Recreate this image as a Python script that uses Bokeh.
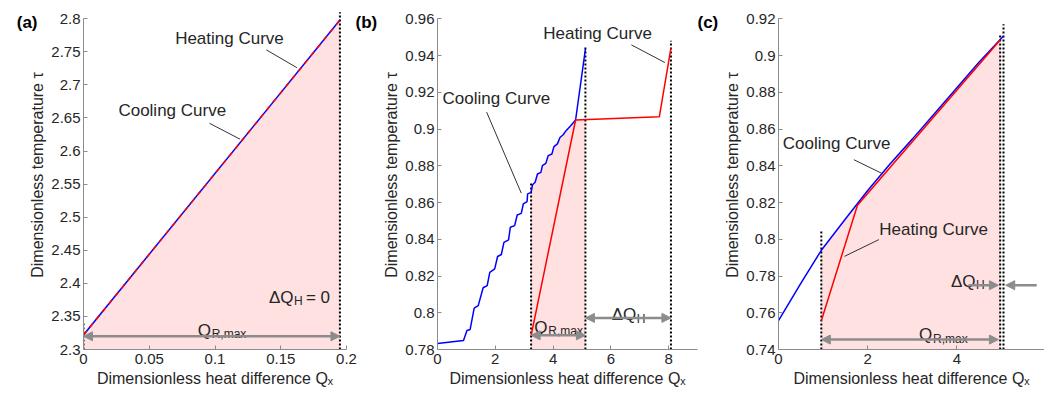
import numpy as np
from bokeh.plotting import figure
from bokeh.layouts import row
from bokeh.models import Arrow, NormalHead, FixedTicker, CustomJSTickFormatter, LinearAxis
from bokeh.core.properties import value
from bokeh.embed import file_html
from bokeh.resources import INLINE

# ---------------- data ----------------
# panel (a)
a_cool_x = [0.0, 0.195]
a_cool_y = [2.322, 2.798]
a_heat_x = [0.0, 0.195]
a_heat_y = [2.322, 2.798]
a_qr = [0.0, 0.195]
a_xticks = [0, 0.05, 0.1, 0.15, 0.2]
a_yticks = [2.3, 2.35, 2.4, 2.45, 2.5, 2.55, 2.6, 2.65, 2.7, 2.75, 2.8]

# panel (b)
b_cool_x = [0, 0.90, 1.02, 1.13, 1.27, 1.41, 1.58, 1.72, 1.81, 1.98, 2.08, 2.21, 2.30, 2.46,
            2.52, 2.67, 2.76, 2.90, 2.97, 3.10, 3.12, 3.24, 3.29, 3.38, 3.46, 3.58, 3.63, 3.75,
            3.83, 3.96, 4.03, 4.15, 4.24, 4.35, 4.45, 4.61, 4.78, 5.12]
b_cool_y = [0.7833, 0.7849, 0.7903, 0.7909, 0.8025, 0.8039, 0.8136, 0.8148, 0.8220, 0.8239,
            0.8306, 0.8317, 0.8383, 0.8397, 0.8465, 0.8474, 0.8532, 0.8541, 0.8592, 0.8605,
            0.8647, 0.8655, 0.8697, 0.8710, 0.8755, 0.8764, 0.8801, 0.8813, 0.8855, 0.8864,
            0.8904, 0.8919, 0.8954, 0.8969, 0.8991, 0.9018, 0.9049, 0.9435]
b_heat_x = [3.24, 4.78, 7.68, 8.08]
b_heat_y = [0.7876, 0.9049, 0.9067, 0.9440]
b_qr = [3.24, 5.12]
b_dqh = [5.12, 8.08]
b_xticks = [0, 2, 4, 6, 8]
b_yticks = [0.78, 0.8, 0.82, 0.84, 0.86, 0.88, 0.9, 0.92, 0.94, 0.96]

# panel (c)
c_cool_x = [0, 0.5, 0.96, 1.5, 2.0, 2.5, 3.0, 3.5, 4.0, 4.5, 5.04]
c_cool_y = [0.7557, 0.7760, 0.7940, 0.8110, 0.8265, 0.8410, 0.8545, 0.8685, 0.8825, 0.8965, 0.9105]
c_heat_x = [0.96, 1.77, 4.97]
c_heat_y = [0.7557, 0.8185, 0.9085]
c_qr = [0.96, 4.97]
c_dqh = [4.97, 5.045]
c_xticks = [0, 2, 4, 6]
c_yticks = [0.74, 0.76, 0.78, 0.8, 0.82, 0.84, 0.86, 0.88, 0.9, 0.92]

XLABEL = "Dimensionless heat difference Q\u2093"
YLABEL = "Dimensionless temperature \u03c4"

# ---------------- style ----------------
FONT = "Liberation Sans"
TXT = "#262626"
AX = "#8c8c8c"
ARROW = "#8c8c8c"
PINK = "#ffe1e1"
BLUE = "#0000ff"
RED = "#ff0000"
H = 394
BB = 45


def make_fig(width, xr, yr, bl, br, xticks, yticks, ybounds):
    p = figure(width=width, height=H, x_range=xr, y_range=yr, output_backend="svg",
               toolbar_location=None, min_border_left=bl, min_border_right=br,
               min_border_top=0, min_border_bottom=BB)
    p.xgrid.visible = False
    p.ygrid.visible = False
    p.outline_line_color = None
    p.background_fill_color = "white"
    p.border_fill_color = "white"
    for ax in (p.xaxis[0], p.yaxis[0]):
        ax.axis_line_color = AX
        ax.axis_line_width = 1
        ax.major_tick_line_color = AX
        ax.major_tick_in = 4
        ax.major_tick_out = 0
        ax.minor_tick_line_color = None
        ax.major_label_text_font = FONT
        ax.major_label_text_font_size = "15px"
        ax.major_label_text_color = TXT
        ax.formatter = CustomJSTickFormatter(code="return String(Math.round(tick*1e6)/1e6);")
        ax.axis_label_text_font = FONT
        ax.axis_label_text_font_size = "16px"
        ax.axis_label_text_font_style = "normal"
        ax.axis_label_text_color = TXT
        ax.axis_label_text_line_height = 1.0
    p.xaxis[0].ticker = FixedTicker(ticks=xticks)
    p.yaxis[0].ticker = FixedTicker(ticks=yticks)
    p.yaxis[0].bounds = ybounds
    p.yaxis[0].major_label_standoff = 3
    p.yaxis[0].axis_label = YLABEL
    p.yaxis[0].axis_label_standoff = 2
    p.xaxis[0].major_label_standoff = 4
    p.xaxis[0].axis_label = XLABEL
    p.xaxis[0].axis_label_standoff = 3
    return p


def panel_tag(p, tag, y, side, standoff=0):
    # a panel letter drawn as the single label of an otherwise invisible axis
    ax = LinearAxis(ticker=FixedTicker(ticks=[y]),
                    formatter=CustomJSTickFormatter(code="return '%s';" % tag))
    ax.axis_line_color = None
    ax.major_tick_line_color = None
    ax.minor_tick_line_color = None
    ax.major_tick_in = 0
    ax.major_tick_out = 0
    ax.major_label_standoff = standoff
    ax.major_label_text_font = FONT
    ax.major_label_text_font_size = "17px"
    ax.major_label_text_font_style = "bold"
    ax.major_label_text_color = "black"
    p.add_layout(ax, side)


def txt(p, x, y, t, size="17px", align="center", baseline="middle", dx=0, dy=0):
    p.text(x=[x], y=[y], text=[t], x_offset=dx, y_offset=dy, text_font=value(FONT),
           text_font_size=size, text_color=TXT, text_align=align, text_baseline=baseline)


def q_rmax(p, x, y):
    txt(p, x, y, "Q", align="left", baseline="alphabetic")
    txt(p, x, y, "R,max", size="12px", align="left", baseline="alphabetic", dx=14, dy=4)


def dqh(p, x, y, tail=None):
    txt(p, x, y, "\u0394Q", align="left", baseline="alphabetic")
    txt(p, x, y, "H", size="12px", align="left", baseline="alphabetic", dx=25, dy=4)
    if tail:
        txt(p, x, y, tail, align="left", baseline="alphabetic", dx=37)


def dotted(p, xs, y0, tops):
    p.segment(x0=xs, y0=[y0] * len(xs), x1=xs, y1=tops, line_color="black",
              line_width=2, line_dash="2 2")


def leader(p, x0, y0, x1, y1):
    p.segment(x0=[x0], y0=[y0], x1=[x1], y1=[y1], line_color="#333333", line_width=1)


def arrow(p, x0, x1, y, both=True):
    head = dict(size=9, fill_color=ARROW, line_color=ARROW)
    p.add_layout(Arrow(x_start=x0, y_start=y, x_end=x1, y_end=y,
                       start=NormalHead(**head) if both else None,
                       end=NormalHead(**head), line_color=ARROW, line_width=2.5))


# ---------------- panel (a) ----------------
pa = make_fig(380, (0, 0.2), (2.3, 2.8276), 83, 32, a_xticks, a_yticks, (2.3, 2.8))
pa.varea(x=a_heat_x, y1=2.3, y2=a_heat_y, fill_color=PINK)
dotted(pa, [a_qr[0], a_qr[1]], 2.3, [2.34, 2.81])
pa.line(a_cool_x, a_cool_y, line_color=BLUE, line_width=1.5)
pa.line(a_heat_x, a_heat_y, line_color=RED, line_width=1.5, line_dash="5 5")
arrow(pa, a_qr[0], a_qr[1], 2.320)
q_rmax(pa, 0.0868, 2.3288)
dqh(pa, 0.141, 2.3788, tail="= 0")
txt(pa, 0.111, 2.7697, "Heating Curve")
leader(pa, 0.139, 2.753, 0.1623, 2.726)
txt(pa, 0.0675, 2.662, "Cooling Curve")
leader(pa, 0.0958, 2.642, 0.119, 2.618)
panel_tag(pa, "(a)", 2.7944, "left", standoff=-11)
panel_tag(pa, "(b)", 2.7944, "right", standoff=9)

# ---------------- panel (b) ----------------
pb = make_fig(341, (0, 9), (0.78, 0.96995), 57, 21, b_xticks, b_yticks, (0.78, 0.96))
bx = np.array(b_cool_x)
by = np.array(b_cool_y)
junction = b_heat_x[1]
mask = (bx > b_qr[0]) & (bx <= junction)
fx = np.concatenate([[b_qr[0]], bx[mask], [b_qr[1]]])
fy = np.concatenate([[np.interp(b_qr[0], bx, by)], by[mask],
                     [np.interp(b_qr[1], b_heat_x, b_heat_y)]])
pb.varea(x=fx, y1=0.78, y2=fy, fill_color=PINK)
dotted(pb, [b_qr[0], b_qr[1], b_dqh[1]], 0.78, [0.871, 0.9445, 0.948])
pb.line(b_cool_x, b_cool_y, line_color=BLUE, line_width=1.5)
pb.line(b_heat_x, b_heat_y, line_color=RED, line_width=1.5)
arrow(pb, b_qr[0], b_qr[1], 0.7877)
arrow(pb, b_dqh[0], b_dqh[1], 0.7972)
q_rmax(pb, 3.35, 0.7921)
dqh(pb, 6.03, 0.7989)
txt(pb, 5.54, 0.9518, "Heating Curve")
leader(pb, 6.71, 0.9458, 7.87, 0.9362)
txt(pb, 2.04, 0.9165, "Cooling Curve")
leader(pb, 1.70, 0.9092, 2.90, 0.8651)
panel_tag(pb, "(c)", 0.9580, "right", standoff=0)

# ---------------- panel (c) ----------------
pc = make_fig(323, (0, 5.964), (0.74, 0.92995), 57, 0, c_xticks, c_yticks, (0.74, 0.92))
cx = np.array(c_cool_x)
cy = np.array(c_cool_y)
maskc = (cx > c_qr[0]) & (cx < c_qr[1])
gx = np.concatenate([[c_qr[0]], cx[maskc], [c_qr[1]]])
gy = np.concatenate([[np.interp(c_qr[0], cx, cy)], cy[maskc], [np.interp(c_qr[1], cx, cy)]])
pc.varea(x=gx, y1=0.74, y2=gy, fill_color=PINK)
dotted(pc, [c_qr[0], c_dqh[0], c_dqh[1]], 0.74, [0.805, 0.912, 0.917])
pc.line(c_cool_x, c_cool_y, line_color=BLUE, line_width=1.5)
pc.line(c_heat_x, c_heat_y, line_color=RED, line_width=1.5)
arrow(pc, c_qr[0], c_qr[1] - 0.04, 0.7454)
arrow(pc, 4.26, c_dqh[0] - 0.04, 0.775, both=False)
arrow(pc, 5.79, c_dqh[1] + 0.05, 0.775, both=False)
q_rmax(pc, 3.15, 0.7480)
dqh(pc, 3.865, 0.7771)
txt(pc, 1.303, 0.852, "Cooling Curve")
leader(pc, 1.69, 0.8433, 2.33, 0.8357)
txt(pc, 3.476, 0.8053, "Heating Curve")
leader(pc, 2.25, 0.7998, 1.48, 0.7907)

layout = row(pa, pb, pc)
open("out.html", "w").write(file_html(layout, INLINE))
